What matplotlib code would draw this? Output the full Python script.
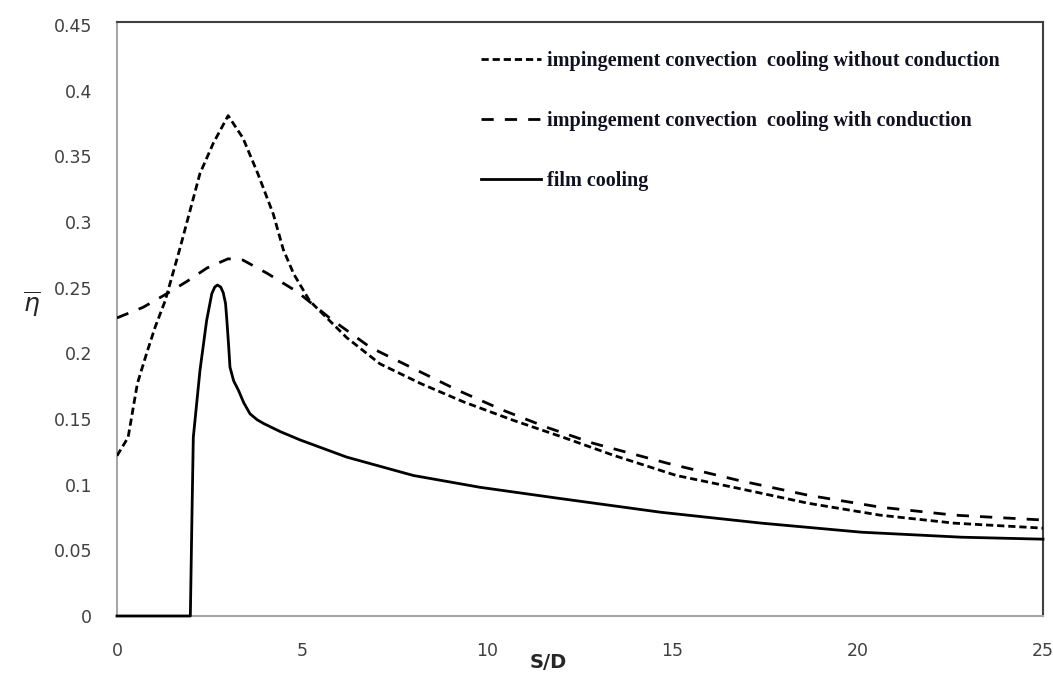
import matplotlib
matplotlib.use("Agg")
import matplotlib.pyplot as plt
from matplotlib.lines import Line2D

# Mean cooling effectiveness vs. streamwise distance S/D
x_without = [0, 0.3, 0.55, 0.8, 1.03, 1.3, 1.7, 2.24, 2.6, 3.0, 3.4, 3.8, 4.22,
             4.49, 4.77, 5.2, 6.2, 7.1, 8.2, 9.36, 10.7, 12.05, 13.4, 15.1,
             16.76, 18.65, 20.6, 22.6, 25]
eta_without = [0.122, 0.136, 0.177, 0.200, 0.220, 0.240, 0.280, 0.337, 0.360,
               0.381, 0.364, 0.337, 0.306, 0.279, 0.2605, 0.240, 0.212, 0.192,
               0.177, 0.163, 0.149, 0.136, 0.1224, 0.107, 0.0973, 0.0859,
               0.0768, 0.0707, 0.0669]

x_with = [0, 0.7, 1.35, 1.9, 2.43, 3.0, 3.4, 4.05, 4.86, 5.76, 6.84, 8.0, 9.19,
          10.43, 11.6, 12.86, 14.86, 16.76, 18.65, 20.6, 22.6, 24.6, 25]
eta_with = [0.227, 0.235, 0.2455, 0.255, 0.265, 0.272, 0.271, 0.261, 0.247,
            0.2265, 0.2045, 0.1885, 0.172, 0.1566, 0.1437, 0.1315, 0.1163,
            0.1034, 0.092, 0.0829, 0.0768, 0.0737, 0.0731]

x_film = [0, 1.98, 2.02, 2.06, 2.24, 2.42, 2.56, 2.64, 2.71, 2.8, 2.87, 2.93,
          2.96, 3.01, 3.05, 3.15, 3.28, 3.42, 3.59, 3.78, 3.95, 4.4, 4.95, 6.2,
          8.0, 9.8, 11.9, 14.68, 17.4, 20.1, 22.8, 25]
eta_film = [0, 0, 0.07, 0.136, 0.187, 0.225, 0.2455, 0.2505, 0.252, 0.2505,
            0.246, 0.238, 0.2275, 0.2075, 0.1895, 0.179, 0.1718, 0.1625, 0.154,
            0.1495, 0.1467, 0.1405, 0.134, 0.121, 0.107, 0.098, 0.0897, 0.079,
            0.0707, 0.0638, 0.060, 0.0585]

labels = ["impingement convection  cooling without conduction",
          "impingement convection  cooling with conduction",
          "film cooling"]

x_ticks = [0, 5, 10, 15, 20, 25]
y_ticks = [0, 0.05, 0.1, 0.15, 0.2, 0.25, 0.3, 0.35, 0.4, 0.45]

fig = plt.figure(figsize=(10.53, 6.82), dpi=100)
ax = fig.add_axes([117 / 1053, 1 - 616 / 682, (1043 - 117) / 1053, (616 - 22) / 682])

lw = 2.0
short_dash = (2.6, 1.4)
long_dash = (4.4, 4.0)

ax.plot(x_without, eta_without, color="black", lw=lw, dashes=short_dash,
        dash_capstyle="butt", zorder=3)
ax.plot(x_with, eta_with, color="black", lw=lw, dashes=long_dash,
        dash_capstyle="butt", zorder=3)
ax.plot(x_film, eta_film, color="black", lw=lw, solid_joinstyle="round",
        clip_on=False, zorder=3)

ax.set_xlim(0, 25)
ax.set_ylim(0, 0.4523)
ax.set_xticks(x_ticks)
ax.set_xticklabels([str(t) for t in x_ticks])
ax.set_yticks(y_ticks)
ax.set_yticklabels(["0"] + ["%g" % t for t in y_ticks[1:]])
ax.tick_params(length=0, labelsize=12.5, labelcolor="#404040")
ax.tick_params(axis="x", pad=19)
ax.tick_params(axis="y", pad=18)

for side in ("left", "bottom"):
    ax.spines[side].set_color("#a6a6a6")
    ax.spines[side].set_linewidth(1.5)
for side in ("top", "right"):
    ax.spines[side].set_color("#404040")
    ax.spines[side].set_linewidth(1.5)

fig.text(548 / 1053, 1 - 663 / 682, "S/D", ha="center", va="center",
         fontsize=14, fontweight="bold", color="#262626")
fig.text(32 / 1053, 1 - 304 / 682, r"$\overline{\eta}$", ha="center",
         va="center", fontsize=18, color="#262626")

handles = [Line2D([], [], color="black", lw=lw, dashes=short_dash, dash_capstyle="butt"),
           Line2D([], [], color="black", lw=lw, dashes=long_dash, dash_capstyle="butt"),
           Line2D([], [], color="black", lw=lw)]
leg = fig.legend(handles, labels, loc="upper left",
                 bbox_to_anchor=(481 / 1053, 1 - 51 / 682),
                 frameon=False, borderpad=0, borderaxespad=0,
                 handlelength=3.0, handletextpad=0.3, labelspacing=1.98,
                 prop={"family": "Liberation Serif", "weight": "bold", "size": 14.5})
for t in leg.get_texts():
    t.set_color("#101020")

fig.savefig("out.png", dpi=100)
